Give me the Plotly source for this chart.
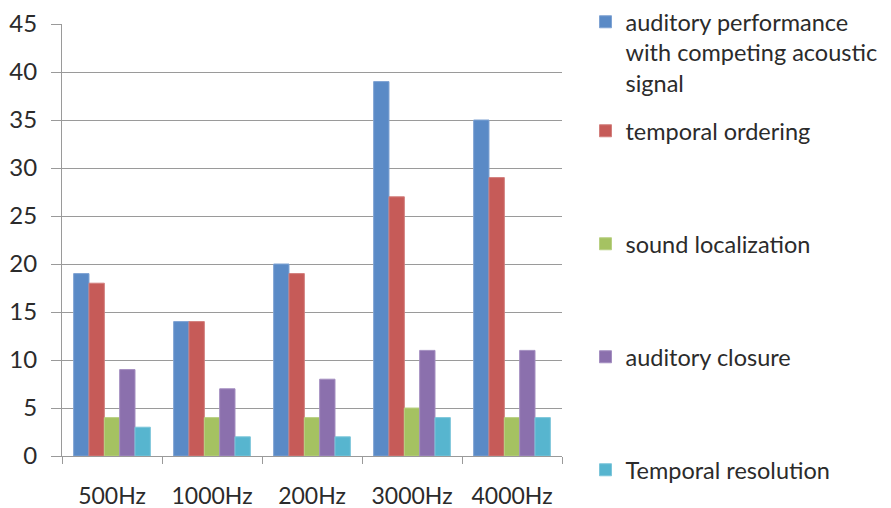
import plotly.graph_objects as go

categories = ["500Hz", "1000Hz", "200Hz", "3000Hz", "4000Hz"]
series_names = [
    "auditory performance<br>with competing acoustic<br>signal",
    "temporal ordering",
    "sound localization",
    "auditory closure",
    "Temporal resolution",
]
competing = [19, 14, 20, 39, 35]
ordering = [18, 14, 19, 27, 29]
localization = [4, 4, 4, 5, 4]
closure = [9, 7, 8, 11, 11]
resolution = [3, 2, 2, 4, 4]
y_ticks = [0, 5, 10, 15, 20, 25, 30, 35, 40, 45]

series_values = [competing, ordering, localization, closure, resolution]
colors = ["#5A8AC6", "#C65B58", "#A5C262", "#8B70AD", "#57B5CF"]
lines = ["#7FA3D3", "#D27F7D", "#B9D083", "#A48EC0", "#7DC6DA"]
legend_ids = ["legend", "legend2", "legend3", "legend4", "legend5"]

FONT = "Lato"
TXT = "#2b2b2b"
fig = go.Figure()
for name, vals, c, lc, lg in zip(series_names, series_values, colors, lines, legend_ids):
    fig.add_trace(go.Bar(x=categories, y=vals, name=name, marker=dict(color=c, line=dict(color=lc, width=1)),
                         legend=lg))

# page body has an 8px margin, so the figure is drawn 8px right/down
OFF = 8
W, H = 891 - OFF, 508 - OFF
PLOT_TOP, PLOT_BOTTOM = 24, 456   # in reference pixels
PLOT_LEFT, PLOT_RIGHT = 62, 562
def py(p):
    return (PLOT_BOTTOM - p) / (PLOT_BOTTOM - PLOT_TOP)

leg_common = dict(x=1.047, xanchor="left", bgcolor="rgba(0,0,0,0)",
                  font=dict(family=FONT, size=23.5, color=TXT), valign="top")
layout_legends = {
    "legend": dict(leg_common, y=py(0), yanchor="top"),
    "legend2": dict(leg_common, y=py(131), yanchor="middle"),
    "legend3": dict(leg_common, y=py(244), yanchor="middle"),
    "legend4": dict(leg_common, y=py(357), yanchor="middle"),
    "legend5": dict(leg_common, y=py(470), yanchor="middle"),
}

fig.update_layout(
    width=W, height=H,
    margin=dict(l=PLOT_LEFT - OFF, r=W - (PLOT_RIGHT - OFF), t=PLOT_TOP - OFF,
                b=H - (PLOT_BOTTOM - OFF), autoexpand=False),
    paper_bgcolor="white", plot_bgcolor="white",
    barmode="group", bargap=0.233, bargroupgap=0,
    font=dict(family=FONT, size=23, color=TXT),
    showlegend=True,
    **layout_legends,
)
fig.update_xaxes(
    showline=True, linecolor="#9a9a9a", linewidth=1,
    ticks="outside", tickson="boundaries", ticklen=7, tickcolor="#9a9a9a",
    ticklabelstandoff=19, tickfont=dict(family=FONT, size=23, color=TXT),
    showgrid=False, automargin=False,
)
fig.update_yaxes(
    range=[0, 45], tickvals=y_ticks, showline=True, linecolor="#9a9a9a", linewidth=1,
    ticks="outside", ticklen=10, tickcolor="#9a9a9a",
    showgrid=True, gridcolor="#9a9a9a", gridwidth=1, zeroline=False,
    ticklabelstandoff=9, tickfont=dict(family=FONT, size=24, color=TXT), automargin=False,
)

fig.write_html("out.html")
